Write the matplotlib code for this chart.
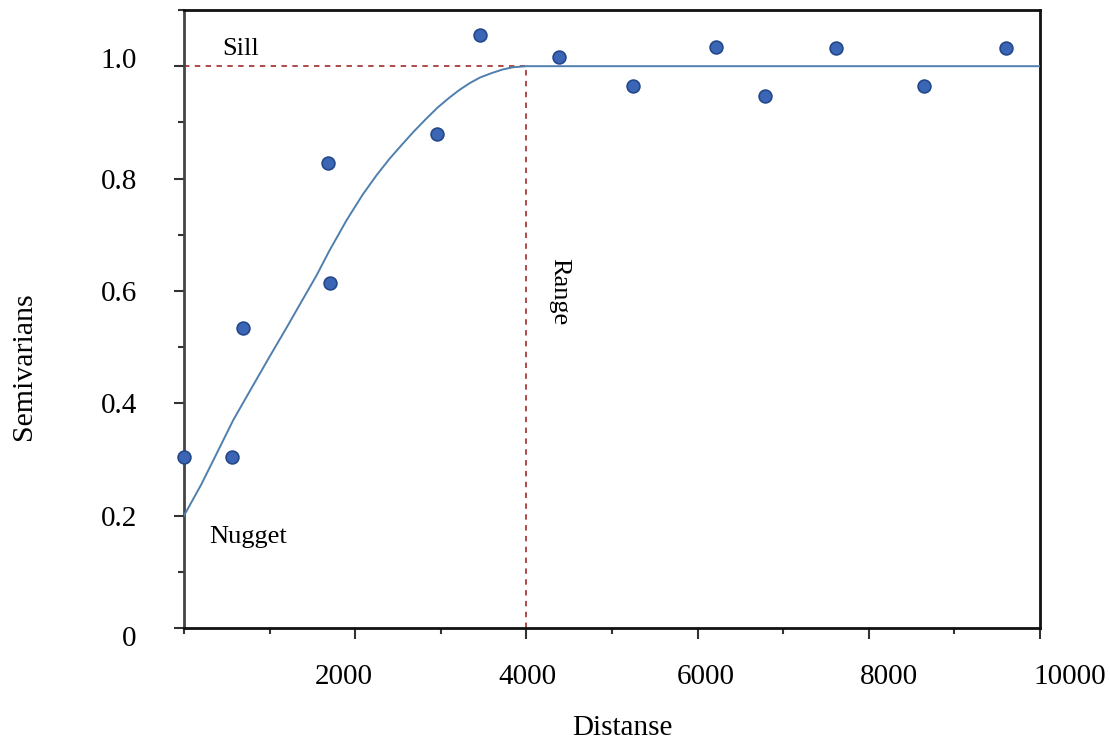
import matplotlib
matplotlib.use("Agg")
import matplotlib.pyplot as plt
import matplotlib.transforms as mtransforms
from matplotlib.ticker import MultipleLocator, FixedLocator

plt.rcParams['font.family'] = ['Liberation Serif', 'DejaVu Serif']

# Observed semivariance points
dist_pts = [0, 560, 690, 1680, 1710, 2960, 3460, 4380, 5240, 6220, 6790, 7620, 8640, 9600]
semi_pts = [0.305, 0.305, 0.534, 0.827, 0.614, 0.879, 1.055, 1.016, 0.964, 1.034, 0.947, 1.032, 0.964, 1.032]

# Fitted model curve
curve_x = [0, 200, 380, 575, 800, 1000, 1200, 1350, 1550, 1700, 1900, 2090, 2250, 2400,
           2550, 2680, 2820, 2960, 3100, 3220, 3340, 3460, 3600, 3720, 3840, 4000, 10000]
curve_y = [0.20, 0.255, 0.31, 0.37, 0.43, 0.483, 0.535, 0.575, 0.628, 0.672, 0.726, 0.772,
           0.806, 0.835, 0.861, 0.883, 0.905, 0.926, 0.944, 0.958, 0.970, 0.980, 0.988,
           0.994, 0.998, 1.0, 1.0]

sill = 1.0
rng = 4000
x_ticks = [2000, 4000, 6000, 8000, 10000]
x_labels = ['2000', '4000', '6000', '8000', '10000']
y_ticks = [0, 0.2, 0.4, 0.6, 0.8, 1.0]
y_labels = ['0', '0.2', '0.4', '0.6', '0.8', '1.0']

fig = plt.figure(figsize=(11.10, 7.43), dpi=100)
ax = fig.add_axes([184/1110, 1-628/743, (1040-184)/1110, (628-10)/743])
ax.set_xlim(0, 10000)
ax.set_ylim(0, 1.1)

red = '#a83a3a'
ax.plot([0, rng], [sill, sill], linestyle=(0, (3, 3)), color=red, lw=1.3, zorder=2)
ax.plot([rng, rng], [0, sill], linestyle=(0, (3, 3)), color=red, lw=1.3, zorder=2)
ax.plot(curve_x, curve_y, color='#4f7fae', lw=1.4, zorder=3)
ax.scatter(dist_pts, semi_pts, s=85, color='#3a66b5', edgecolor='#24488a', linewidth=1.2,
           zorder=4, clip_on=False)

ax.text(0.045, 0.937, 'Sill', transform=ax.transAxes, fontsize=19, va='center', ha='left')
ax.text(0.03, 0.148, 'Nugget', transform=ax.transAxes, fontsize=19, va='center', ha='left')
ax.text(0.438, 0.545, 'Range', transform=ax.transAxes, fontsize=19, va='center', ha='center',
        rotation=-90)

ax.xaxis.set_major_locator(FixedLocator(x_ticks))
ax.set_xticklabels(x_labels)
ax.xaxis.set_minor_locator(FixedLocator([0, 1000, 3000, 5000, 7000, 9000]))
ax.yaxis.set_major_locator(FixedLocator(y_ticks))
ax.set_yticklabels(y_labels)
ax.yaxis.set_minor_locator(MultipleLocator(0.1))

ax.tick_params(axis='x', which='major', length=8, width=1.5, color='#333333', labelsize=21, pad=18)
ax.tick_params(axis='x', which='minor', length=4, width=1.5, color='#333333')
ax.tick_params(axis='y', which='major', length=7, width=1.5, color='#333333', labelsize=21, pad=27)
ax.tick_params(axis='y', which='minor', length=4.5, width=1.5, color='#333333')

# the reference's tick labels sit slightly off their ticks
x_label_dx = [-11, 1, 8, 20, 30]   # pixels, in x_ticks order
y_label_dy = [8, 0, 0, 0, 0, -8]   # pixels (positive = downwards), in y_ticks order
for tick, dx in zip(ax.xaxis.get_major_ticks(), x_label_dx):
    off = mtransforms.ScaledTranslation(dx / 100, 0, fig.dpi_scale_trans)
    tick.label1.set_transform(tick.label1.get_transform() + off)
for tick, dy in zip(ax.yaxis.get_major_ticks(), y_label_dy):
    off = mtransforms.ScaledTranslation(0, -dy / 100, fig.dpi_scale_trans)
    tick.label1.set_transform(tick.label1.get_transform() + off)

for s in ['top', 'right', 'bottom']:
    ax.spines[s].set_color('#111111')
    ax.spines[s].set_linewidth(2)
ax.spines['left'].set_color('#444444')
ax.spines['left'].set_linewidth(2)

fig.text(622/1110, 1-741/743, 'Distanse', fontsize=21, ha='center', va='bottom')
fig.text(24/1110, 1-366/743, 'Semivarians', fontsize=21.5, ha='center', va='center', rotation=90)

fig.savefig('out.png', dpi=100)
